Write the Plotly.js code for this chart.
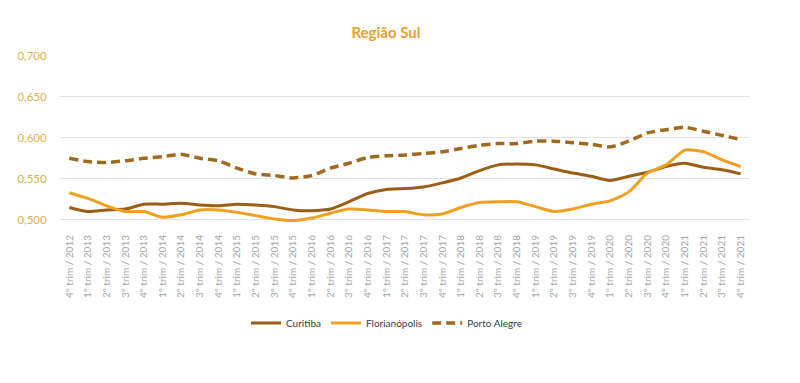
<!DOCTYPE html>
<html>
<head>
<meta charset="utf-8">
<script src="https://cdn.plot.ly/plotly-3.0.1.min.js"></script>
<style>html,body{margin:0;padding:0;background:#fff}#chart{width:800px;height:383px}</style>
</head>
<body>
<div id="chart"></div>
<script>
const quarters = [
  "4º trim / 2012",
  "1º trim / 2013","2º trim / 2013","3º trim / 2013","4º trim / 2013",
  "1º trim / 2014","2º trim / 2014","3º trim / 2014","4º trim / 2014",
  "1º trim / 2015","2º trim / 2015","3º trim / 2015","4º trim / 2015",
  "1º trim / 2016","2º trim / 2016","3º trim / 2016","4º trim / 2016",
  "1º trim / 2017","2º trim / 2017","3º trim / 2017","4º trim / 2017",
  "1º trim / 2018","2º trim / 2018","3º trim / 2018","4º trim / 2018",
  "1º trim / 2019","2º trim / 2019","3º trim / 2019","4º trim / 2019",
  "1º trim / 2020","2º trim / 2020","3º trim / 2020","4º trim / 2020",
  "1º trim / 2021","2º trim / 2021","3º trim / 2021","4º trim / 2021"
];
const curitiba = [0.515,0.510,0.512,0.513,0.519,0.519,0.520,0.518,0.517,0.519,0.518,0.516,0.512,0.511,0.513,0.522,0.532,0.537,0.538,0.540,0.545,0.551,0.560,0.567,0.568,0.567,0.562,0.557,0.553,0.548,0.553,0.558,0.565,0.569,0.564,0.561,0.556];
const florianopolis = [0.533,0.526,0.517,0.510,0.510,0.503,0.506,0.512,0.512,0.509,0.505,0.501,0.499,0.502,0.508,0.513,0.512,0.510,0.510,0.506,0.507,0.515,0.521,0.522,0.522,0.516,0.510,0.513,0.519,0.523,0.534,0.557,0.567,0.585,0.583,0.573,0.565];
const portoAlegre = [0.575,0.571,0.570,0.572,0.575,0.577,0.580,0.575,0.572,0.563,0.556,0.554,0.551,0.554,0.563,0.569,0.576,0.578,0.579,0.581,0.583,0.587,0.591,0.593,0.593,0.596,0.596,0.594,0.592,0.589,0.596,0.606,0.610,0.613,0.608,0.603,0.598];
const yTicks = [0.5,0.55,0.6,0.65,0.7];

const traces = [
  {x: quarters, y: curitiba, name: "Curitiba", type: "scatter", mode: "lines",
   line: {color: "#9A5E14", width: 3, shape: "spline", smoothing: 0.6}},
  {x: quarters, y: florianopolis, name: "Florianópolis", type: "scatter", mode: "lines",
   line: {color: "#F0A020", width: 3, shape: "spline", smoothing: 0.6}},
  {x: quarters, y: portoAlegre, name: "Porto Alegre", type: "scatter", mode: "lines",
   line: {color: "#A06A1E", width: 3.5, dash: "9px,5px", shape: "spline", smoothing: 0.6}}
];

const layout = {
  width: 800, height: 383,
  paper_bgcolor: "#fff", plot_bgcolor: "#fff",
  separators: ",.",
  margin: {l: 60, r: 50, t: 56, b: 160},
  title: {text: "<b>Região Sul</b>", x: 386/800, xref: "container", xanchor: "center",
          y: 1 - 33/383, yref: "container", yanchor: "middle",
          font: {family: "Lato, 'Open Sans', sans-serif", size: 15, color: "#E8A030"}},
  xaxis: {type: "category", tickangle: -90, showgrid: false, zeroline: false, showline: false,
          ticks: "outside", ticklen: 7, tickcolor: "rgba(0,0,0,0)",
          tickfont: {family: "Lato, 'Open Sans', sans-serif", size: 10, color: "#a6a6a6"},
          range: [-0.5, 36.5]},
  yaxis: {range: [0.496, 0.7], tickvals: yTicks, tickformat: ".3f",
          showgrid: true, gridcolor: "#e3e3e3", gridwidth: 1, zeroline: false, showline: false,
          ticks: "outside", ticklen: 10, tickcolor: "rgba(0,0,0,0)",
          tickfont: {family: "Lato, 'Open Sans', sans-serif", size: 11.5, color: "#E3AE50"}},
  showlegend: true,
  legend: {orientation: "h", x: 387/800, xref: "container", xanchor: "center",
           y: 1 - 323/383, yref: "container", yanchor: "middle",
           font: {family: "Lato, 'Open Sans', sans-serif", size: 10, color: "#404040"},
           itemwidth: 30, tracegroupgap: 0}
};

Plotly.newPlot("chart", traces, layout, {displayModeBar: false, staticPlot: true});
</script>
</body>
</html>
